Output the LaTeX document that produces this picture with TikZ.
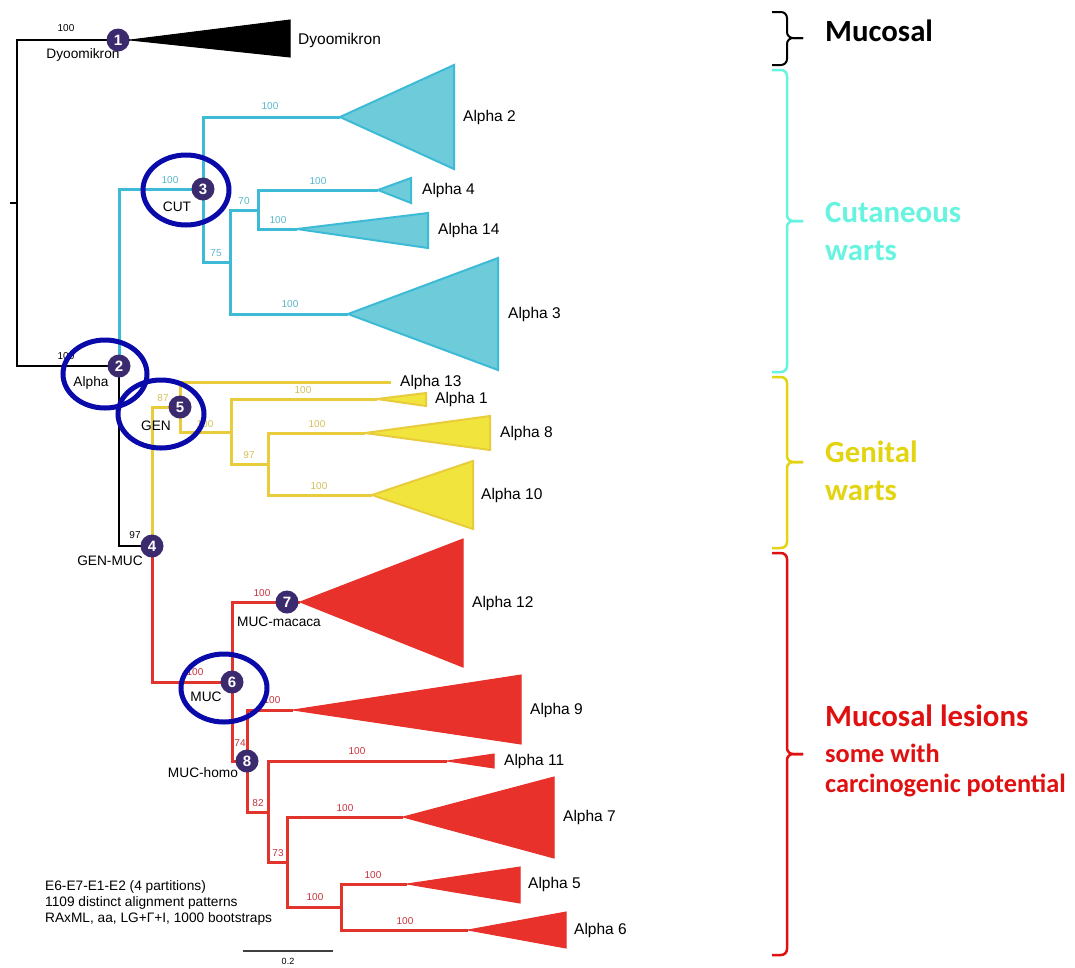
\documentclass[tikz,border=0pt]{standalone}
\usepackage{fontspec}
\setmainfont{Liberation Sans}
\newfontfamily\calib{Carlito}
\usetikzlibrary{shapes.geometric}
\definecolor{cyanL}{HTML}{3DBAD6}
\definecolor{cyanF}{HTML}{6ECCDA}
\definecolor{cyanT}{HTML}{5AB6CC}
\definecolor{yelL}{HTML}{E8CC3C}
\definecolor{yelF}{HTML}{F1E43C}
\definecolor{yelT}{HTML}{D6C05A}
\definecolor{redL}{HTML}{E0342C}
\definecolor{redF}{HTML}{E8312A}
\definecolor{redT}{HTML}{C8323C}
\definecolor{nodeP}{HTML}{3B2A6E}
\definecolor{ringB}{HTML}{0A0AAA}
\definecolor{brCyan}{HTML}{66F4E0}
\definecolor{brYel}{HTML}{E3D411}
\definecolor{brRed}{HTML}{E01010}
\tikzset{
  blk/.style={line width=2.5pt, black},
  cyb/.style={line width=3pt, cyanL},
  yeb/.style={line width=3pt, yelL},
  reb/.style={line width=3pt, redL},
  tricy/.style={fill=cyanF, draw=cyanL, line width=2pt},
  triye/.style={fill=yelF, draw=yelL, line width=2pt},
  trire/.style={fill=redF, draw=redF, line width=1pt},
  tribk/.style={fill=black, draw=black, line width=1pt},
  bs/.style={font=\fontsize{10}{12}\selectfont, inner sep=0pt},
  lab/.style={font=\fontsize{13.7}{16}\selectfont, inner sep=0pt},
  tiplab/.style={font=\fontsize{15.5}{18}\selectfont, inner sep=0pt, anchor=west},
  pnode/.style={circle, fill=nodeP, minimum size=23pt, inner sep=0pt, text=white, font=\bfseries\fontsize{15}{15}\selectfont},
  ring/.style={ellipse, draw=ringB, line width=5pt, inner sep=0pt},
  brace/.style={rounded corners=6pt},
  grp/.style={font=\calib\bfseries\fontsize{30.8}{36}\selectfont, inner sep=0pt, anchor=base west},
  grps/.style={font=\calib\bfseries\fontsize{26.3}{30}\selectfont, inner sep=0pt, anchor=base west},
  foot/.style={font=\fontsize{13.7}{16}\selectfont, inner sep=0pt, anchor=west}
}
\begin{document}
\begin{tikzpicture}[x=1pt,y=-1pt]
\useasboundingbox (0,0) rectangle (1075,967);
\clip (0,0) rectangle (1075,967);
\fill[white] (0,0) rectangle (1075,967);
% internal coordinates
\coordinate (rootstub) at (10,203);
\coordinate (root) at (17,203);
\coordinate (n1) at (118,40);
\coordinate (n2) at (119,366);
\coordinate (n3) at (203,189);
\coordinate (c75) at (230,262);
\coordinate (c70) at (258,210);
\coordinate (n4) at (152,546);
\coordinate (n5) at (180,407);
\coordinate (g100) at (231,432);
\coordinate (g97) at (268,464);
\coordinate (n6) at (232,682);
\coordinate (n7) at (287,602);
\coordinate (n8) at (247,761);
\coordinate (r82) at (268,812);
\coordinate (r73) at (287,862);
\coordinate (r100) at (341,907);
% tips
\coordinate (tDyo) at (130,40);
\coordinate (tA2) at (340,117);
\coordinate (tA4) at (378,190);
\coordinate (tA14) at (297,229);
\coordinate (tA3) at (348,314);
\coordinate (tA13) at (391,382);
\coordinate (tA1) at (377,399);
\coordinate (tA8) at (365,433);
\coordinate (tA10) at (372,495);
\coordinate (tA12) at (300,602);
\coordinate (tA9) at (293,710);
\coordinate (tA11) at (447,761);
\coordinate (tA7) at (403,817);
\coordinate (tA5) at (407,884);
\coordinate (tA6) at (468,930);
% black branches
\draw[blk] (rootstub) -- (root);
\draw[blk] (root) |- (n1);
\draw[blk] (root) |- (n2);
\draw[blk] (n1) -- (tDyo);
\draw[blk] (n2) |- (n4);
% cyan branches
\draw[cyb] (n2) |- (n3);
\draw[cyb] (n3) |- (tA2);
\draw[cyb] (n3) |- (c75);
\draw[cyb] (c75) |- (c70);
\draw[cyb] (c75) |- (tA3);
\draw[cyb] (c70) |- (tA4);
\draw[cyb] (c70) |- (tA14);
% yellow branches
\draw[yeb] (n4) |- (n5);
\draw[yeb] (n5) |- (tA13);
\draw[yeb] (n5) |- (g100);
\draw[yeb] (g100) |- (tA1);
\draw[yeb] (g100) |- (g97);
\draw[yeb] (g97) |- (tA8);
\draw[yeb] (g97) |- (tA10);
% red branches
\draw[reb] (n4) |- (n6);
\draw[reb] (n6) |- (n7);
\draw[reb] (n6) |- (n8);
\draw[reb] (n7) -- (tA12);
\draw[reb] (n8) |- (tA9);
\draw[reb] (n8) |- (r82);
\draw[reb] (r82) |- (tA11);
\draw[reb] (r82) |- (r73);
\draw[reb] (r73) |- (tA7);
\draw[reb] (r73) |- (r100);
\draw[reb] (r100) |- (tA5);
\draw[reb] (r100) |- (tA6);
% collapsed clades
\draw[tribk] (tDyo) -- (290,20) -- (290,57) -- cycle;
\draw[tricy] (tA2) -- (454,65) -- (454,169) -- cycle;
\draw[tricy] (tA4) -- (411,178) -- (411,203) -- cycle;
\draw[tricy] (tA14) -- (428,213) -- (428,248) -- cycle;
\draw[tricy] (tA3) -- (498,258) -- (498,370) -- cycle;
\draw[triye] (tA1) -- (426,393) -- (426,406) -- cycle;
\draw[triye] (tA8) -- (490,416) -- (490,450) -- cycle;
\draw[triye] (tA10) -- (473,461) -- (473,529) -- cycle;
\draw[trire] (tA12) -- (463,539) -- (463,667) -- cycle;
\draw[trire] (tA9) -- (521,675) -- (521,744) -- cycle;
\draw[trire] (tA11) -- (494,754) -- (494,768) -- cycle;
\draw[trire] (tA7) -- (554,777) -- (554,858) -- cycle;
\draw[trire] (tA5) -- (520,867) -- (520,903) -- cycle;
\draw[trire] (tA6) -- (566,912) -- (566,948) -- cycle;
% tip labels
\node[tiplab] (LDyo) at (298,40) {Dyoomikron};
\node[tiplab] (LA2) at (463,117) {Alpha 2};
\node[tiplab] (LA4) at (422,190) {Alpha 4};
\node[tiplab] (LA14) at (438,230) {Alpha 14};
\node[tiplab] (LA3) at (508,314) {Alpha 3};
\node[tiplab] (LA13) at (400,382) {Alpha 13};
\node[tiplab] (LA1) at (435,399) {Alpha 1};
\node[tiplab] (LA8) at (500,433) {Alpha 8};
\node[tiplab] (LA10) at (481,495) {Alpha 10};
\node[tiplab] (LA12) at (472,603) {Alpha 12};
\node[tiplab] (LA9) at (530,710) {Alpha 9};
\node[tiplab] (LA11) at (504,761) {Alpha 11};
\node[tiplab] (LA7) at (563,817) {Alpha 7};
\node[tiplab] (LA5) at (528,884) {Alpha 5};
\node[tiplab] (LA6) at (574,930) {Alpha 6};
% bootstrap values
\node[bs] (b1) at (66,28) {100};
\node[bs] (b2) at (66,356) {100};
\node[bs] (b3) at (135,535) {97};
\node[bs, text=cyanT] (b4) at (270,106) {100};
\node[bs, text=cyanT] (b5) at (170,180) {100};
\node[bs, text=cyanT] (b6) at (244,201) {70};
\node[bs, text=cyanT] (b7) at (216,253) {75};
\node[bs, text=cyanT] (b8) at (318,181) {100};
\node[bs, text=cyanT] (b9) at (278,220) {100};
\node[bs, text=cyanT] (b10) at (290,304) {100};
\node[bs, text=yelT] (b11) at (163,398) {87};
\node[bs, text=yelT] (b12) at (303,390) {100};
\node[bs, text=yelT] (b13) at (205,424) {100};
\node[bs, text=yelT] (b14) at (249,455) {97};
\node[bs, text=yelT] (b15) at (317,424) {100};
\node[bs, text=yelT] (b16) at (319,486) {100};
\node[bs, text=redT] (b17) at (195,672) {100};
\node[bs, text=redT] (b18) at (262,593) {100};
\node[bs, text=redT] (b19) at (272,700) {100};
\node[bs, text=redT] (b20) at (240,743) {74};
\node[bs, text=redT] (b21) at (258,803) {82};
\node[bs, text=redT] (b22) at (357,751) {100};
\node[bs, text=redT] (b23) at (278,853) {73};
\node[bs, text=redT] (b24) at (345,808) {100};
\node[bs, text=redT] (b25) at (315,897) {100};
\node[bs, text=redT] (b26) at (373,875) {100};
\node[bs, text=redT] (b27) at (405,921) {100};
% internal node labels
\node[lab] (l1) at (83,55) {Dyoomikron};
\node[lab] (l2) at (91,383) {Alpha};
\node[lab] (l3) at (177,207) {CUT};
\node[lab] (l5) at (156,426) {GEN};
\node[lab] (l4) at (110,561) {GEN-MUC};
\node[lab] (l6) at (206,697) {MUC};
\node[lab] (l7) at (279,622) {MUC-macaca};
\node[lab] (l8) at (203,773) {MUC-homo};
% numbered nodes
\node[pnode] (N1) at (n1) {1};
\node[pnode] (N2) at (n2) {2};
\node[pnode] (N3) at (n3) {3};
\node[pnode] (N4) at (n4) {4};
\node[pnode] (N5) at (n5) {5};
\node[pnode] (N6) at (n6) {6};
\node[pnode] (N7) at (n7) {7};
\node[pnode] (N8) at (n8) {8};
% highlight rings
\node[ring, minimum width=84pt, minimum height=68pt] (E2) at (105,374) {};
\node[ring, minimum width=86pt, minimum height=70pt] (E3) at (186,190) {};
\node[ring, minimum width=86pt, minimum height=68pt] (E5) at (161,414) {};
\node[ring, minimum width=86pt, minimum height=68pt] (E6) at (224,688) {};
% footnote and scale bar
\node[foot] (f1) at (45,887) {E6-E7-E1-E2 (4 partitions)};
\node[foot] (f2) at (45,903) {1109 distinct alignment patterns};
\node[foot] (f3) at (45,919) {RAxML, aa, LG+Γ+I, 1000 bootstraps};
\coordinate (sb1) at (243,951);
\coordinate (sb2) at (333,951);
\draw[line width=1.2pt, black!75] (sb1) -- (sb2);
\node[bs, font=\fontsize{9}{10}\selectfont] (sbl) at (288,961) {0.2};
% group braces
\draw[brace, line width=2pt, black] (772,12) -- (787,12) -- (787,38) -- (803,38);
\draw[brace, line width=2pt, black] (772,65) -- (787,65) -- (787,38) -- (803,38);
\draw[brace, line width=2.5pt, brCyan] (772,70) -- (787,70) -- (787,221) -- (803,221);
\draw[brace, line width=2.5pt, brCyan] (772,372) -- (787,372) -- (787,221) -- (803,221);
\draw[brace, line width=2.5pt, brYel] (772,377) -- (787,377) -- (787,462) -- (803,462);
\draw[brace, line width=2.5pt, brYel] (772,548) -- (787,548) -- (787,462) -- (803,462);
\draw[brace, line width=2.5pt, brRed] (772,553) -- (787,553) -- (787,754) -- (803,754);
\draw[brace, line width=2.5pt, brRed] (772,955) -- (787,955) -- (787,754) -- (803,754);
\node[grp] (G1) at (825,41) {Mucosal};
\node[grp, text=brCyan] (G2a) at (825,222) {Cutaneous};
\node[grp, text=brCyan] (G2b) at (825,260) {warts};
\node[grp, text=brYel] (G3a) at (825,462) {Genital};
\node[grp, text=brYel] (G3b) at (825,500) {warts};
\node[grp, text=brRed] (G4a) at (825,726) {Mucosal lesions};
\node[grps, text=brRed] (G4b) at (825,762) {some with};
\node[grps, text=brRed] (G4c) at (825,792) {carcinogenic potential};
\end{tikzpicture}
\end{document}
